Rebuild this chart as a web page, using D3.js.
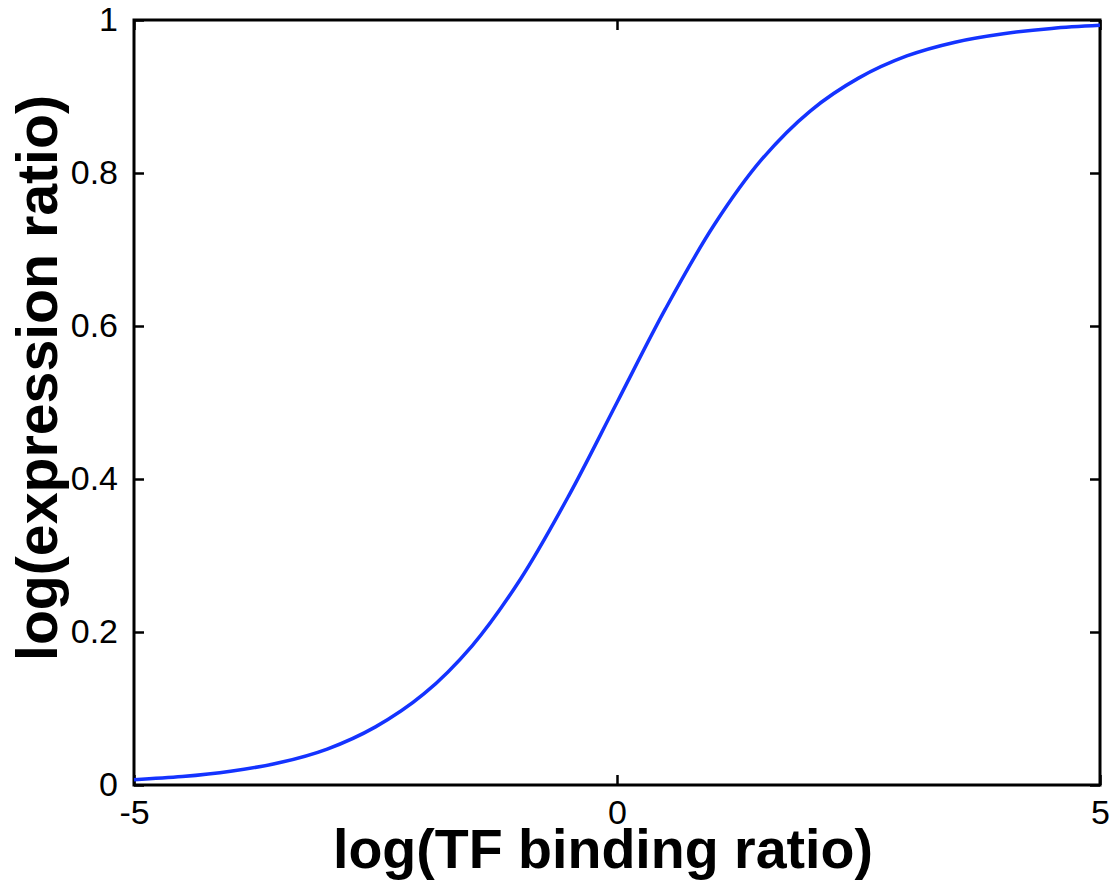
<!DOCTYPE html>
<html>
<head>
<meta charset="utf-8">
<script src="https://cdn.jsdelivr.net/npm/d3@7"></script>
<style>
  body { margin: 0; background: #fff; }
  svg { display: block; }
  text { font-family: "Liberation Sans", Arial, Helvetica, sans-serif; }
</style>
</head>
<body>
<div id="chart"></div>
<script>
// values
const bindingRatio = [-5, -4.5, -4, -3.5, -3, -2.5, -2, -1.5, -1, -0.5, 0, 0.5, 1, 1.5, 2, 2.5, 3, 3.5, 4, 4.5, 5];
const expressionRatio = [0.007, 0.011, 0.018, 0.029, 0.047, 0.076, 0.119, 0.182, 0.269, 0.378, 0.5, 0.622, 0.731, 0.818, 0.881, 0.924, 0.953, 0.971, 0.982, 0.989, 0.993];
const xTicks = [-5, 0, 5];
const yTicks = [0, 0.2, 0.4, 0.6, 0.8, 1];
const xLabel = 'log(TF binding ratio)';
const yLabel = 'log(expression ratio)';

const width = 1114, height = 882,
    margin = {top: 20, right: 14, bottom: 97, left: 134},
    innerW = width - margin.left - margin.right,
    innerH = height - margin.top - margin.bottom,
    tickLen = 10;

const svg = d3.select('#chart').append('svg')
    .attr('width', width)
    .attr('height', height);

const x = d3.scaleLinear().domain([-5, 5]).range([margin.left, margin.left + innerW]);
const y = d3.scaleLinear().domain([0, 1]).range([margin.top + innerH, margin.top]);

const tickFmt = d => Number.isInteger(d) ? String(d) : d3.format('.1f')(d);

// bottom axis (labels) and top axis (ticks only)
const gx = svg.append('g')
    .attr('transform', 'translate(0,' + y(0) + ')')
    .call(d3.axisBottom(x).tickValues(xTicks).tickFormat(tickFmt).tickSizeInner(-tickLen).tickSizeOuter(0).tickPadding(15));
svg.append('g')
    .attr('transform', 'translate(0,' + y(1) + ')')
    .call(d3.axisTop(x).tickValues(xTicks).tickFormat('').tickSizeInner(-tickLen).tickSizeOuter(0));

const gy = svg.append('g')
    .attr('transform', 'translate(' + x(-5) + ',0)')
    .call(d3.axisLeft(y).tickValues(yTicks).tickFormat(tickFmt).tickSizeInner(-tickLen).tickSizeOuter(0).tickPadding(16));
svg.append('g')
    .attr('transform', 'translate(' + x(5) + ',0)')
    .call(d3.axisRight(y).tickValues(yTicks).tickFormat('').tickSizeInner(-tickLen).tickSizeOuter(0));

svg.selectAll('.domain').remove();
svg.selectAll('.tick line').attr('stroke', '#000').attr('stroke-width', 2.5);
svg.selectAll('.tick text').attr('fill', '#000').style('font-size', '34px');
gx.selectAll('.tick text').attr('dy', '0.71em');

// box
svg.append('rect')
    .attr('x', x(-5))
    .attr('y', y(1))
    .attr('width', x(5) - x(-5))
    .attr('height', y(0) - y(1))
    .attr('fill', 'none')
    .attr('stroke', '#000')
    .attr('stroke-width', 3);

// curve
const pts = bindingRatio.map((v, i) => [v, expressionRatio[i]]);
svg.append('path')
    .datum(pts)
    .attr('fill', 'none')
    .attr('stroke', '#1433ff')
    .attr('stroke-width', 3.5)
    .attr('d', d3.line().x(d => x(d[0])).y(d => y(d[1])).curve(d3.curveCatmullRom));

// axis titles
svg.append('text')
    .attr('x', 603)
    .attr('y', 868)
    .attr('text-anchor', 'middle')
    .attr('textLength', 540)
    .attr('lengthAdjust', 'spacingAndGlyphs')
    .style('font-size', '56px')
    .style('font-weight', 'bold')
    .text(xLabel);

svg.append('text')
    .attr('transform', 'translate(57,378) rotate(-90)')
    .attr('text-anchor', 'middle')
    .attr('textLength', 566)
    .attr('lengthAdjust', 'spacingAndGlyphs')
    .style('font-size', '58px')
    .style('font-weight', 'bold')
    .text(yLabel);
</script>
</body>
</html>
